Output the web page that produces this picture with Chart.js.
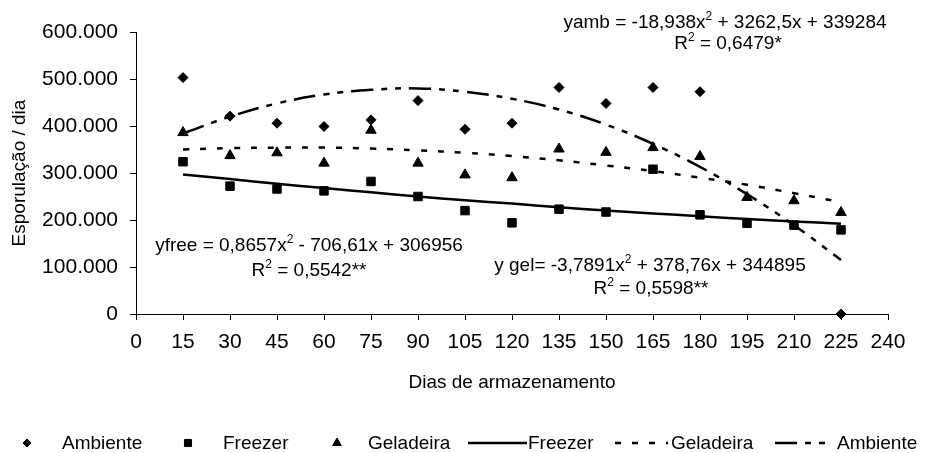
<!DOCTYPE html>
<html><head><meta charset="utf-8">
<script src="https://cdn.jsdelivr.net/npm/chart.js@4.4.1/dist/chart.umd.min.js"></script>
<style>html,body{margin:0;padding:0;background:#fff;}#wrap{width:925px;height:453px;}</style>
</head><body><div id="wrap"><canvas id="c" width="925" height="453"></canvas></div>
<script>
// ---- data ----
const days = [15,30,45,60,75,90,105,120,135,150,165,180,195,210,225];
const ambiente  = [503000,421000,406000,399000,413000,454000,393000,406000,482000,448000,482000,473000,null,null,0];
const freezer   = [324000,272000,266000,262000,282000,250000,220000,194000,223000,217000,308000,211000,193000,189000,179000];
const geladeira = [386000,337000,343000,321000,391000,321000,296000,290000,351000,344000,354000,335000,248000,241000,216000];
const trendFreezer   = [297000,287000,277000,268000,259000,250000,242000,235000,227000,220000,214000,208000,202000,197000,192000];
const trendGeladeira = [350000,353000,354000,354000,352000,348000,343000,336000,327000,316000,304000,290000,275000,257000,238000];
const trendAmbiente  = [384000,420000,448000,467000,477000,480000,473000,458000,435000,403000,362000,313000,255000,189000,115000];
const xTickValues = [0,15,30,45,60,75,90,105,120,135,150,165,180,195,210,225,240];
const yTickValues = [0,100000,200000,300000,400000,500000,600000];
const yTickLabels = ['0','100.000','200.000','300.000','400.000','500.000','600.000'];
const xTitle = 'Dias de armazenamento';
const yTitle = 'Esporulação / dia';
const equations = [
  {lines:[[['yamb = -18,938x',0],['2',1],[' + 3262,5x + 339284',0]],[['R',0],['2',1],[' = 0,6479*',0]]], cx:[725,728], base:[28,49]},
  {lines:[[['yfree = 0,8657x',0],['2',1],[' - 706,61x + 306956',0]],[['R',0],['2',1],[' = 0,5542**',0]]], cx:[309,309], base:[251,276]},
  {lines:[[['y gel= -3,7891x',0],['2',1],[' + 378,76x + 344895',0]],[['R',0],['2',1],[' = 0,5598**',0]]], cx:[650,651], base:[271,294]}
];

const FAM = "'Liberation Sans', Arial, Helvetica, sans-serif";
const pts = arr => days.map((d,i)=>({x:d, y:arr[i]}));

const eqPlugin = {
  id:'eq',
  afterDraw(chart){
    const ctx = chart.ctx;
    ctx.save();
    ctx.fillStyle = '#000';
    ctx.textBaseline = 'alphabetic';
    ctx.textAlign = 'left';
    const nf = '19px ' + FAM, sf = '12px ' + FAM;
    equations.forEach(eq=>{
      eq.lines.forEach((parts, li)=>{
        let w = 0;
        parts.forEach(([t,s])=>{ ctx.font = s? sf : nf; w += ctx.measureText(t).width; });
        let x = eq.cx[li] - w/2;
        parts.forEach(([t,s])=>{
          ctx.font = s? sf : nf;
          ctx.fillText(t, x, eq.base[li] - (s? 8 : 0));
          x += ctx.measureText(t).width;
        });
      });
    });
    ctx.restore();
  }
};

const legendPlugin = {
  id:'customLegend',
  afterDraw(chart){
    const ctx = chart.ctx;
    const ds = chart.data.datasets;
    const y = 443;
    const items = [
      {ds:0, mx:27, tx:62},
      {ds:1, mx:188, tx:223},
      {ds:2, mx:337, tx:368},
      {ds:3, l0:468, l1:527, tx:528},
      {ds:4, l0:615, l1:668, tx:671},
      {ds:5, l0:775, l1:833, tx:837}
    ];
    ctx.save();
    items.forEach(it=>{
      const d = ds[it.ds];
      if (it.mx !== undefined){
        ctx.fillStyle='#000'; ctx.strokeStyle='#000';
        Chart.helpers.drawPoint(ctx, {pointStyle:d.pointStyle, radius:d.pointRadius-1, borderWidth:1, rotation:0}, it.mx, y);
      } else {
        ctx.strokeStyle='#000'; ctx.lineWidth = d.borderWidth;
        ctx.setLineDash(d.borderDash || []);
        ctx.beginPath(); ctx.moveTo(it.l0, y); ctx.lineTo(it.l1, y); ctx.stroke();
        ctx.setLineDash([]);
      }
      ctx.fillStyle='#000';
      ctx.font = '19px ' + FAM;
      ctx.textBaseline='alphabetic'; ctx.textAlign='left';
      ctx.fillText(d.label, it.tx, 449);
    });
    ctx.restore();
  }
};

const tickFont = {family:FAM, size:21};
const titleFont = {family:FAM, size:19};

new Chart(document.getElementById('c'), {
  type:'scatter',
  data:{datasets:[
    {label:'Ambiente', data:pts(ambiente), pointStyle:'rectRot', pointRadius:5, pointBorderWidth:1, backgroundColor:'#000', borderColor:'#000', showLine:false, clip:false},
    {label:'Freezer', data:pts(freezer), pointStyle:'rect', pointRadius:6, pointBorderWidth:1, backgroundColor:'#000', borderColor:'#000', showLine:false, clip:false},
    {label:'Geladeira', data:pts(geladeira), pointStyle:'triangle', pointRadius:6, pointBorderWidth:1, backgroundColor:'#000', borderColor:'#000', showLine:false, clip:false},
    {label:'Freezer', type:'line', data:pts(trendFreezer), borderColor:'#000', borderWidth:2.5, pointRadius:0, tension:0.4, fill:false},
    {label:'Geladeira', type:'line', data:pts(trendGeladeira), borderColor:'#000', borderWidth:2.5, borderDash:[6,11], pointRadius:0, tension:0.4, fill:false},
    {label:'Ambiente', type:'line', data:pts(trendAmbiente), borderColor:'#000', borderWidth:2.5, borderDash:[22,8,6,8,6,8], pointRadius:0, tension:0.4, fill:false}
  ]},
  options:{
    responsive:false, animation:false, devicePixelRatio:1,
    layout:{padding:{left:0, right:37, top:32, bottom:59}},
    plugins:{legend:{display:false}, tooltip:{enabled:false}},
    scales:{
      x:{type:'linear', min:0, max:240,
        afterBuildTicks:s=>{ s.ticks = xTickValues.map(v=>({value:v})); },
        afterFit:s=>{ s.height = 80; },
        ticks:{font:tickFont, color:'#000', padding:10, maxRotation:0, autoSkip:false, callback:(v)=>String(v)},
        grid:{drawOnChartArea:false, drawTicks:true, tickLength:6, color:'#000'},
        border:{color:'#000', width:1},
        title:{display:true, text:xTitle, font:titleFont, color:'#000', padding:0}
      },
      y:{min:0, max:600000,
        afterBuildTicks:s=>{ s.ticks = yTickValues.map(v=>({value:v})); },
        afterFit:s=>{ s.width = 136; },
        ticks:{font:tickFont, color:'#000', padding:12, callback:(v,i)=>yTickLabels[i]},
        grid:{drawOnChartArea:false, drawTicks:true, tickLength:6, color:'#000'},
        border:{color:'#000', width:1},
        title:{display:true, text:yTitle, font:titleFont, color:'#000', padding:{top:8,bottom:0}}
      }
    }
  },
  plugins:[eqPlugin, legendPlugin]
});
</script></body></html>
